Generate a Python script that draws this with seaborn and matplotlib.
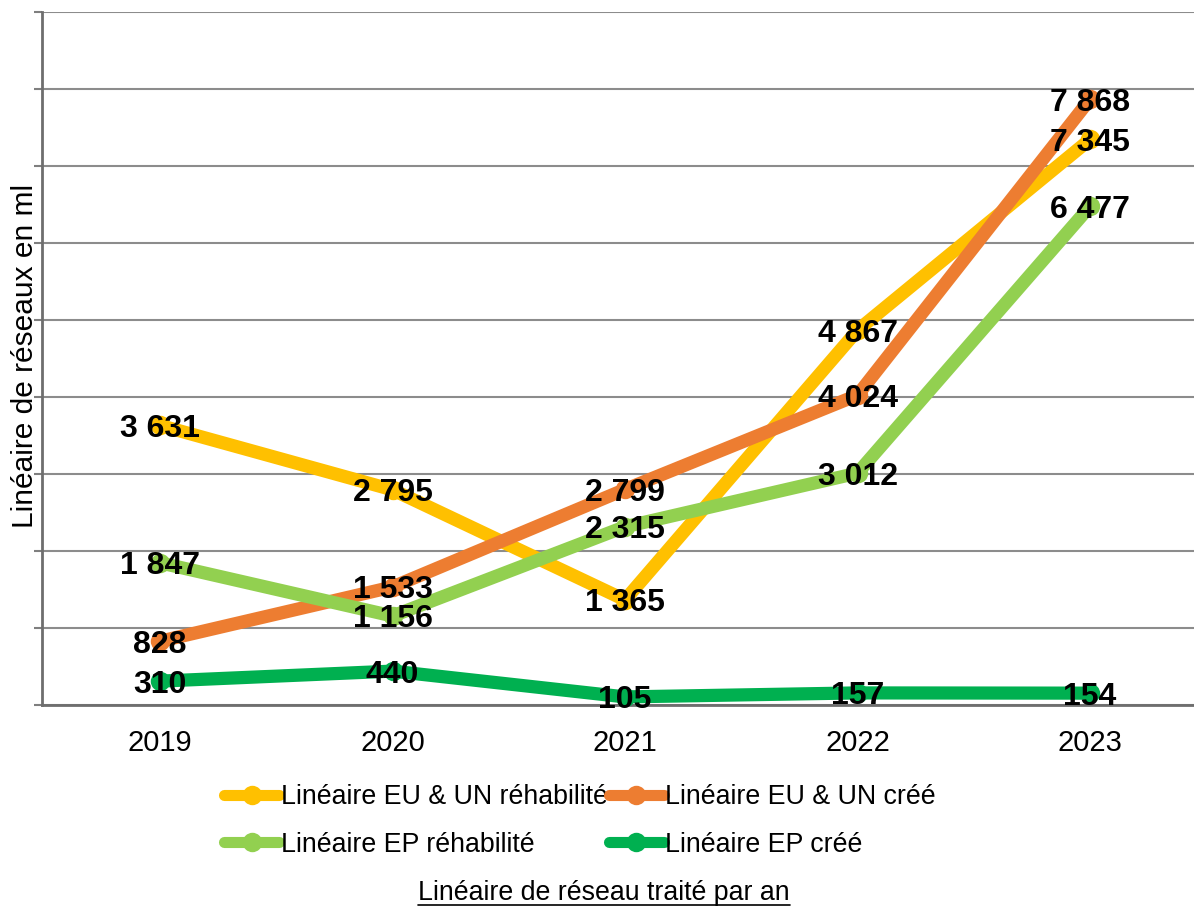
import matplotlib
matplotlib.use("Agg")
import matplotlib.pyplot as plt
from matplotlib.lines import Line2D
import seaborn as sns
import pandas as pd

years = ["2019", "2020", "2021", "2022", "2023"]
series_names = ["Linéaire EU & UN réhabilité", "Linéaire EU & UN créé",
                "Linéaire EP réhabilité", "Linéaire EP créé"]
eu_rehab = [3631, 2795, 1365, 4867, 7345]
eu_cree = [828, 1533, 2799, 4024, 7868]
ep_rehab = [1847, 1156, 2315, 3012, 6477]
ep_cree = [310, 440, 105, 157, 154]
colors = ["#FFC000", "#ED7D31", "#92D050", "#00B050"]

values = [eu_rehab, eu_cree, ep_rehab, ep_cree]
rows = []
for name, vals in zip(series_names, values):
    for i, (yr, v) in enumerate(zip(years, vals)):
        rows.append({"pos": i, "year": yr, "value": v, "series": name})
df = pd.DataFrame(rows)

sns.set_theme(style="white")
plt.rcParams["font.family"] = ["Liberation Sans", "DejaVu Sans"]
plt.rcParams["text.color"] = "black"
plt.rcParams["xtick.color"] = "black"

fig = plt.figure(figsize=(11.94, 9.08), dpi=100)
ax = fig.add_axes([42 / 1194, 1 - 705 / 908, 1 - 42 / 1194, (705 - 12) / 908])

for name, col in zip(series_names, colors):
    sub = df[df["series"] == name]
    sns.lineplot(data=sub, x="pos", y="value", ax=ax, color=col, linewidth=9.5,
                 marker="o", markersize=14, markeredgewidth=0, label=name,
                 solid_capstyle="round", sort=False, zorder=3)

for name, vals in zip(series_names, values):
    for i, v in enumerate(vals):
        ax.text(i, v, f"{v:,}".replace(",", " "), ha="center", va="center_baseline",
                fontsize=23, fontweight="bold", color="black", zorder=5)

ax.set_xlim(-0.5075, 4.447)
ax.set_ylim(0, 9000)
ax.set_yticks(range(0, 9001, 1000))
ax.set_yticklabels([])
ax.set_xticks(range(len(years)))
ax.set_xticklabels(years, fontsize=21)
ax.tick_params(axis="x", length=0, pad=17, labelcolor="black")
ax.tick_params(axis="y", length=6, width=1.5, color="#7f7f7f", direction="out", left=True)
ax.grid(axis="y", color="#8c8c8c", linewidth=1.5)
ax.set_axisbelow(True)
for s in ["top", "right"]:
    ax.spines[s].set_visible(False)
for s in ["left", "bottom"]:
    ax.spines[s].set_color("#6e6e6e")
    ax.spines[s].set_linewidth(2)
ax.set_xlabel("")
ax.set_ylabel("")
fig.text(25 / 1194, 1 - 356 / 908, "Linéaire de réseaux en ml", rotation=90,
         ha="center", va="center", fontsize=21.5, color="black")

handles, labels = ax.get_legend_handles_labels()
ax.get_legend().remove()
order = [0, 2, 1, 3]
leg = fig.legend([handles[i] for i in order], [labels[i] for i in order],
                 loc="center", bbox_to_anchor=(580 / 1194, 1 - 821 / 908), ncol=2,
                 frameon=False, fontsize=19.3, handlelength=2.05, handletextpad=0.05,
                 columnspacing=0.05, labelspacing=0.8)
for lh in leg.get_lines():
    lh.set_linewidth(8)
    lh.set_markersize(14)
for t in leg.get_texts():
    t.set_color("black")

title = fig.text(604 / 1194, 1 - 893 / 908, "Linéaire de réseau traité par an",
                 ha="center", va="center", fontsize=19.3, color="black")
fig.canvas.draw()
bb = title.get_window_extent().transformed(fig.transFigure.inverted())
fig.add_artist(Line2D([bb.x0, bb.x1], [bb.y0 + 0.001, bb.y0 + 0.001],
                      transform=fig.transFigure, color="black", linewidth=1.2))

fig.savefig("out.png", dpi=100)
